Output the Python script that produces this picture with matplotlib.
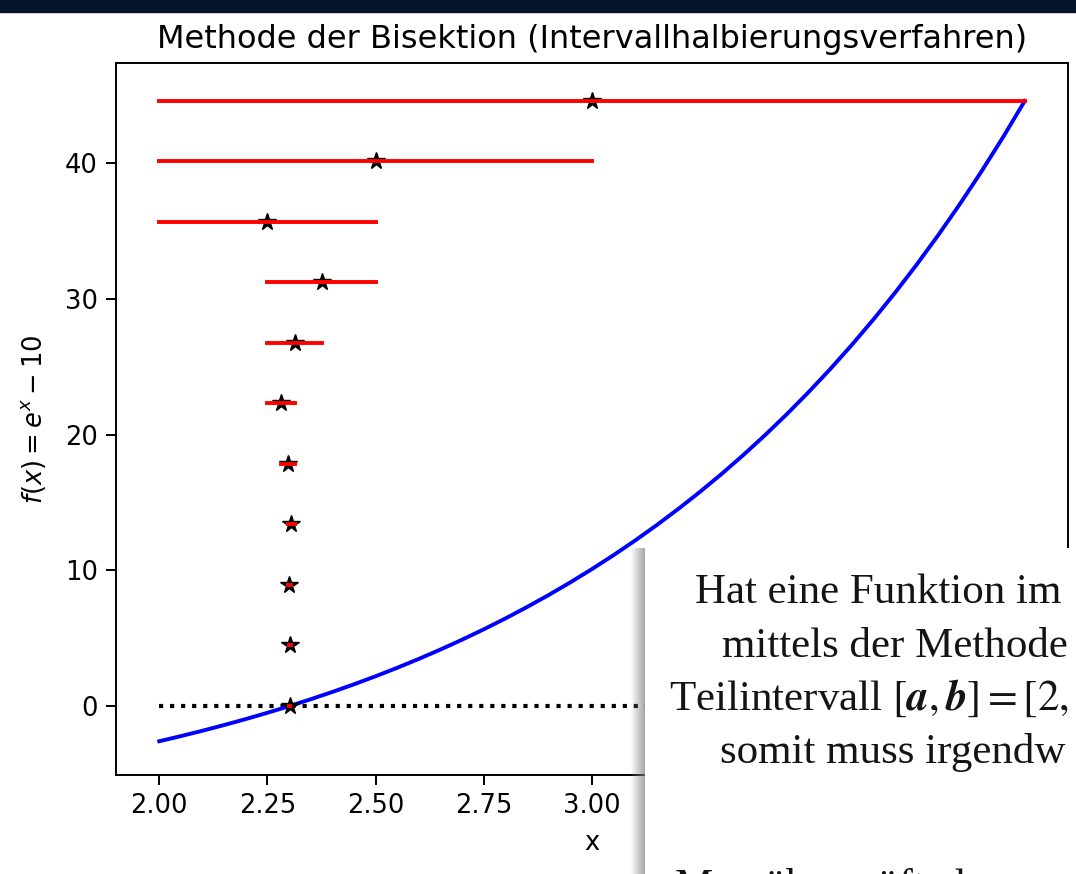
from matplotlib import pyplot as plt
from matplotlib.patches import Rectangle

# curve samples of f(x) = e^x - 10
curve_x = [2.0, 2.05, 2.1, 2.15, 2.2, 2.25, 2.3, 2.35, 2.4, 2.45, 2.5, 2.55, 2.6, 2.65,
           2.7, 2.75, 2.8, 2.85, 2.9, 2.95, 3.0, 3.05, 3.1, 3.15, 3.2, 3.25, 3.3, 3.35,
           3.4, 3.45, 3.5, 3.55, 3.6, 3.65, 3.7, 3.75, 3.8, 3.85, 3.9, 3.95, 4.0]
curve_y = [-2.611, -2.232, -1.834, -1.415, -0.975, -0.512, -0.026, 0.486, 1.023, 1.588,
           2.182, 2.807, 3.464, 4.154, 4.880, 5.643, 6.445, 7.288, 8.174, 9.106, 10.086,
           11.115, 12.198, 13.336, 14.533, 15.790, 17.113, 18.503, 19.964, 21.500, 23.115,
           24.813, 26.598, 28.475, 30.447, 32.521, 34.701, 36.993, 39.402, 41.935, 44.598]

# bisection steps: interval [a, b], midpoint c, drawn at level y
step_a = [2.0, 2.0, 2.0, 2.25, 2.25, 2.25, 2.28125, 2.296875, 2.296875, 2.30078, 2.30078]
step_b = [4.0, 3.0, 2.5, 2.5, 2.375, 2.3125, 2.3125, 2.3125, 2.3046875, 2.3046875, 2.30273]
step_c = [3.0, 2.5, 2.25, 2.375, 2.3125, 2.28125, 2.296875, 2.3046875, 2.30078, 2.30273, 2.30176]
step_y = [44.60, 40.14, 35.68, 31.22, 26.76, 22.30, 17.84, 13.38, 8.92, 4.46, 0.0]

xticks = [2.00, 2.25, 2.50, 2.75, 3.00, 3.25, 3.50, 3.75, 4.00]
yticks = [0, 10, 20, 30, 40]

plt.rcParams['mathtext.fontset'] = 'dejavusans'

W, H = 1076, 874
fig = plt.figure(figsize=(W / 100, H / 100), dpi=100)
ax = fig.add_axes([116 / W, 1 - 775 / H, (1068 - 116) / W, (775 - 63) / H])

# zero line
ax.plot([curve_x[0], curve_x[-1]], [0, 0], 'k:', lw=3)
# function
ax.plot(curve_x, curve_y, 'b-', lw=2.8)
# midpoints, then interval lines on top
ax.plot(step_c, step_y, 'k*', markersize=13)
for a, b, y in zip(step_a, step_b, step_y):
    ax.plot([a, b], [y, y], 'r-', lw=2.8)

ax.set_ylim(-5.1, 47.4)
ax.set_xticks(xticks)
ax.set_yticks(yticks)
ax.tick_params(labelsize=18.5, length=7, width=1.4, pad=6)
for s in ax.spines.values():
    s.set_linewidth(1.4)
ax.set_xlabel('x', fontsize=18.5, labelpad=8)
ax.set_ylabel('$f(x) = e^x - 10$', fontsize=18.5, labelpad=12)
ax.set_title('Methode der Bisektion (Intervallhalbierungsverfahren)', fontsize=23, pad=11)

# dark band at the top of the screenshot
fig.patches.append(Rectangle((0, 1 - 12 / H), 1, 12 / H, transform=fig.transFigure,
                             color='#06142c', zorder=5))

# overlaid slide text box with shadow on its left
box_x, box_top = 645, 548
for i in range(14):
    fig.patches.append(Rectangle(((box_x - 14 + i) / W, 0), 1 / W, 1 - box_top / H,
                                 transform=fig.transFigure, color='0.5',
                                 alpha=0.04 + 0.05 * i, lw=0, zorder=5))
fig.patches.append(Rectangle((box_x / W, 0), 1, 1 - box_top / H, transform=fig.transFigure,
                             facecolor='white', edgecolor='none', zorder=6))

lines = [
    (695, 603, 'Hat eine Funktion im'),
    (722, 657, 'mittels der Methode'),
    (669, 710, 'Teilintervall $[\\mathbfit{a}, \\mathbfit{b}] = [2,$'),
    (720, 763, 'somit muss irgendw'),
    (675, 898, 'Man überprüft also'),
]
for x, y, t in lines:
    fig.text(x / W, 1 - y / H, t, fontsize=31, family='Liberation Serif',
             math_fontfamily='stix', color='#141414', ha='left', va='baseline', zorder=7)

plt.savefig('out.png', dpi=100)
